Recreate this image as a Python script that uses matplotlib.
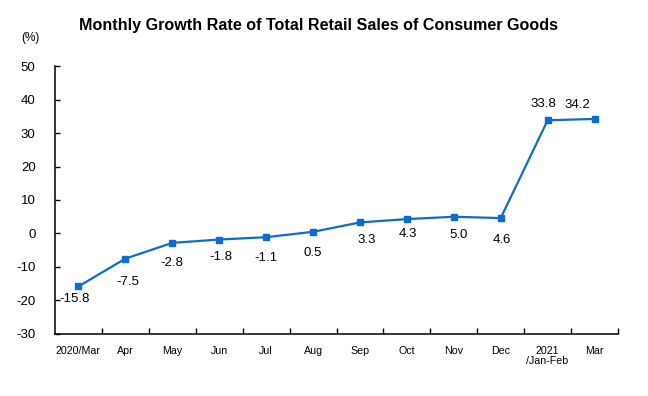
import numpy as np
import matplotlib
matplotlib.use('Agg')
import matplotlib.pyplot as plt
from matplotlib.ticker import FixedLocator

months = ['2020/Mar', 'Apr', 'May', 'Jun', 'Jul', 'Aug', 'Sep', 'Oct', 'Nov', 'Dec',
          '2021\n/Jan-Feb', 'Mar']
growth = [-15.8, -7.5, -2.8, -1.8, -1.1, 0.5, 3.3, 4.3, 5.0, 4.6, 33.8, 34.2]
y_ticks = [-30, -20, -10, 0, 10, 20, 30, 40, 50]

# label offsets in pixels (dx, dy)
offs = [(-4, -13), (2, -23), (0, -20), (2, -17), (0, -21), (0, -21),
        (7, -18), (1, -15), (5, -18), (1, -22), (-4, 16), (-17, 14)]

plt.rcParams['font.family'] = ['Liberation Sans', 'DejaVu Sans']

fig = plt.figure(figsize=(6.48, 3.96), dpi=100)
fig.set_facecolor('white')
ax = fig.add_axes([0.0849, 0.1566, 0.8688, 0.6767])

x = np.arange(len(months))
ax.plot(x, growth, color='#0f6ccf', lw=1.6, marker='s', ms=4.2,
        markerfacecolor='#0f6ccf', markeredgecolor='#0f6ccf', zorder=3)

for i, v in enumerate(growth):
    dx, dy = offs[i]
    ax.annotate('%.1f' % v, (x[i], v), xytext=(dx * 0.72, dy * 0.72),
                textcoords='offset points', ha='center', va='center',
                fontsize=9.5, color='black')

ax.set_xlim(-0.5, len(months) - 0.5)
ax.set_ylim(-30, 50)
ax.set_yticks(y_ticks)
ax.set_yticklabels([str(t) for t in y_ticks], fontsize=9.5)
ax.tick_params(axis='y', direction='in', length=3.5, width=1, pad=14)

ax.set_xticks(x)
ax.set_xticklabels(months, fontsize=7.7, linespacing=0.95)
ax.tick_params(axis='x', which='major', length=0, pad=9)
ax.xaxis.set_minor_locator(FixedLocator(np.arange(0.5, len(months), 1.0)))
ax.tick_params(axis='x', which='minor', direction='in', length=4, width=1)

for s in ['top', 'right']:
    ax.spines[s].set_visible(False)
for s in ['left', 'bottom']:
    ax.spines[s].set_linewidth(1.1)

fig.text(0.492, 0.935, 'Monthly Growth Rate of Total Retail Sales of Consumer Goods',
         ha='center', va='center', fontsize=11.6, fontweight='bold')
fig.text(0.047, 0.903, '(%)', ha='center', va='center', fontsize=8.5)

fig.savefig('out.png', dpi=100)
